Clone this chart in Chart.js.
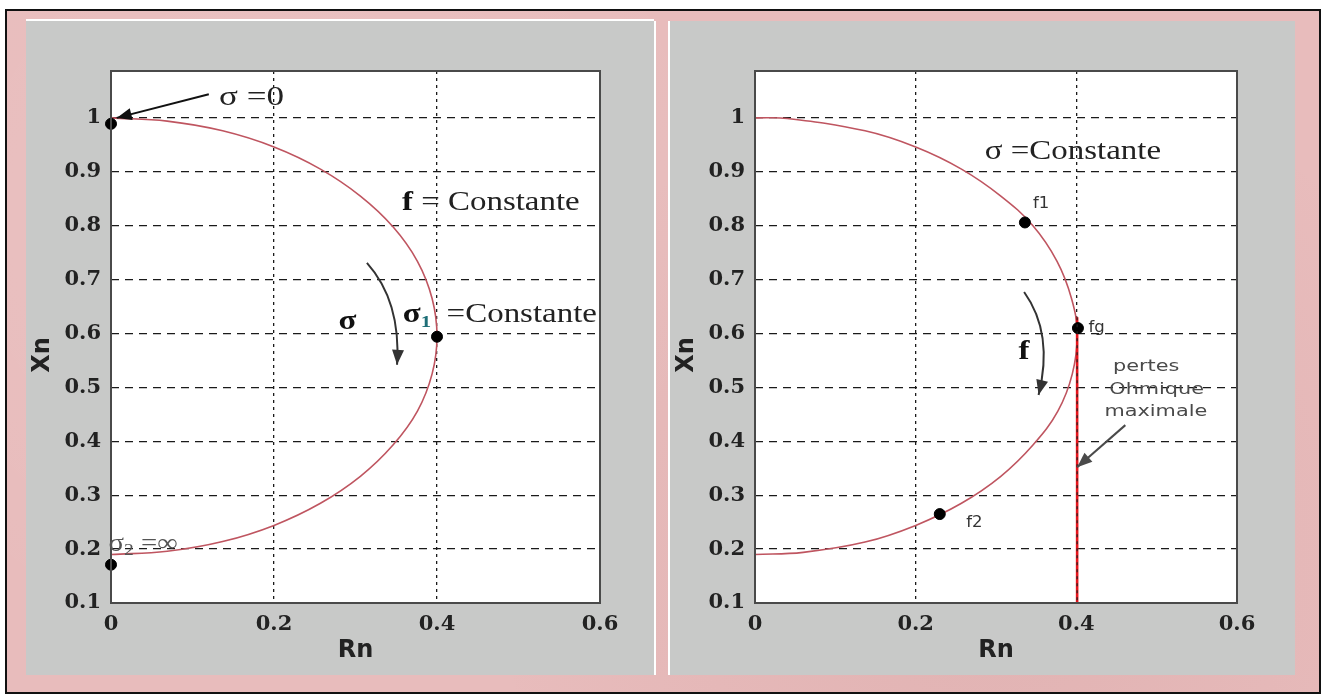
<!DOCTYPE html>
<html>
<head>
<meta charset="utf-8">
<script src="https://cdn.jsdelivr.net/npm/chart.js@4.4.1/dist/chart.umd.min.js"></script>
<style>
  html, body { margin: 0; padding: 0; background: #fff; }
  body { width: 1326px; height: 694px; position: relative; overflow: hidden; }
  #frame {
    position: absolute; left: 5px; top: 9px; width: 1312px; height: 681px;
    border: 2px solid #111;
    background:
      radial-gradient(circle at 20% 30%, rgba(255,255,255,0.10), transparent 40%),
      radial-gradient(circle at 75% 80%, rgba(160,90,90,0.10), transparent 45%),
      #e8bcbc;
  }
  .panel { position: absolute; top: 21px; height: 654px; background: #c8c9c8; }
  #p1 { left: 26px; width: 628px; box-shadow: 0 -2px 0 #fff, 2px 0 0 #fff; }
  #p2 { left: 670px; width: 625px; box-shadow: -2px 0 0 #fff; }
  canvas { display: block; }
</style>
</head>
<body>
<div id="frame"></div>
<div class="panel" id="p1"><canvas id="left" width="628" height="654"></canvas></div>
<div class="panel" id="p2"><canvas id="right" width="625" height="654"></canvas></div>

<script>
// axes
const xTicks = [0, 0.2, 0.4, 0.6];
const yTicks = [0.1, 0.2, 0.3, 0.4, 0.5, 0.6, 0.7, 0.8, 0.9, 1];

// left figure : f = Constante
const leftRn = [0, 0.069, 0.137, 0.200, 0.257, 0.306, 0.346, 0.376, 0.394, 0.400,
                0.394, 0.376, 0.346, 0.306, 0.257, 0.200, 0.137, 0.069, 0];
const leftXn = [1.000, 0.994, 0.976, 0.946, 0.905, 0.855, 0.798, 0.734, 0.665, 0.595,
                0.525, 0.456, 0.393, 0.335, 0.285, 0.244, 0.214, 0.196, 0.190];
const leftDotRn = [0, 0.4, 0];
const leftDotXn = [0.989, 0.594, 0.171];

// right figure : sigma = Constante
const rightRn = [0, 0.040, 0.137, 0.200, 0.257, 0.306, 0.346, 0.376, 0.394, 0.401,
                 0.395, 0.377, 0.346, 0.306, 0.257, 0.200, 0.137, 0.060, 0];
const rightXn = [1.000, 0.999, 0.976, 0.946, 0.905, 0.855, 0.800, 0.734, 0.665, 0.600,
                 0.525, 0.456, 0.393, 0.335, 0.285, 0.244, 0.213, 0.194, 0.190];
const rightDotRn = [0.336, 0.402, 0.23];
const rightDotXn = [0.806, 0.610, 0.265];
const limitRn = [0.401, 0.401];
const limitXn = [0.630, 0.1];

const SERIF = "'Liberation Serif', 'Times New Roman', serif";
const SANS = "'DejaVu Sans', sans-serif";

const pts = (xs, ys) => xs.map((x, i) => ({ x: x, y: ys[i] }));

function pos(chart, rn, xn) {
  return [chart.scales.x.getPixelForValue(rn), chart.scales.y.getPixelForValue(xn)];
}

function drawRich(ctx, x, y, parts, sx, align) {
  ctx.save();
  ctx.textBaseline = 'middle';
  ctx.textAlign = 'left';
  let w = 0;
  parts.forEach(p => { ctx.font = p.font; w += ctx.measureText(p.text).width + (p.dx || 0); });
  ctx.translate(x, y);
  ctx.scale(sx, 1);
  let cx = align === 'center' ? -w / 2 : 0;
  parts.forEach(p => {
    ctx.font = p.font;
    ctx.fillStyle = p.color;
    cx += p.dx || 0;
    ctx.fillText(p.text, cx, p.dy || 0);
    cx += ctx.measureText(p.text).width;
  });
  ctx.restore();
}

function head(ctx, x, y, ang, color) {
  ctx.save();
  ctx.translate(x, y);
  ctx.rotate(ang);
  ctx.fillStyle = color;
  ctx.beginPath();
  ctx.moveTo(0, 0);
  ctx.lineTo(-15, -6);
  ctx.lineTo(-15, 6);
  ctx.closePath();
  ctx.fill();
  ctx.restore();
}

function arrow(chart, a, color) {
  const ctx = chart.ctx;
  const s = pos(chart, a.from[0], a.from[1]);
  const e = pos(chart, a.to[0], a.to[1]);
  ctx.save();
  ctx.strokeStyle = color;
  ctx.lineWidth = 2;
  ctx.beginPath();
  ctx.moveTo(s[0], s[1]);
  let ang;
  if (a.ctrl) {
    const c = pos(chart, a.ctrl[0], a.ctrl[1]);
    ctx.quadraticCurveTo(c[0], c[1], e[0], e[1]);
    ang = Math.atan2(e[1] - c[1], e[0] - c[0]);
  } else {
    ctx.lineTo(e[0], e[1]);
    ang = Math.atan2(e[1] - s[1], e[0] - s[0]);
  }
  ctx.stroke();
  ctx.restore();
  head(ctx, e[0], e[1], ang, color);
}

// plot frame, white plot area, rotated Xn title, notes
function decor(notes, arrows) {
  return {
    id: 'decor',
    beforeDraw(chart) {
      const { ctx, chartArea: a } = chart;
      ctx.save();
      ctx.fillStyle = '#ffffff';
      ctx.fillRect(a.left, a.top, a.right - a.left, a.bottom - a.top);
      ctx.restore();
    },
    afterDraw(chart) {
      const { ctx, chartArea: a } = chart;
      ctx.save();
      ctx.strokeStyle = '#4a4a4a';
      ctx.lineWidth = 2;
      ctx.strokeRect(a.left, a.top, a.right - a.left, a.bottom - a.top);
      ctx.translate(a.left - 68, (a.top + a.bottom) / 2 + 18);
      ctx.rotate(-Math.PI / 2);
      ctx.font = 'bold 24px ' + SANS;
      ctx.fillStyle = '#222';
      ctx.textAlign = 'center';
      ctx.textBaseline = 'middle';
      ctx.fillText('Xn', 0, 0);
      ctx.restore();
      arrows.forEach(ar => arrow(chart, ar, ar.color));
      notes.forEach(n => {
        const p = pos(chart, n.at[0], n.at[1]);
        drawRich(ctx, p[0], p[1], n.parts, n.sx || 1, n.align);
      });
    }
  };
}

function scales() {
  const keep = vals => scale => { scale.ticks = vals.map(v => ({ value: v })); };
  const fmt = v => String(+Number(v).toFixed(1));
  const tickFont = { family: "'DejaVu Serif', serif", size: 21, weight: 'bold' };
  return {
    x: {
      type: 'linear', min: 0, max: 0.6,
      afterBuildTicks: keep(xTicks),
      afterFit: s => { s.height = 72; },
      grid: { color: '#1a1a1a', lineWidth: 1.3, drawTicks: false },
      border: { display: false, dash: [3, 4] },
      ticks: { color: '#222', font: tickFont, padding: 9, maxRotation: 0, autoSkip: false, callback: fmt },
      title: { display: true, text: 'Rn', color: '#222', font: { family: SANS, size: 24, weight: 'bold' }, padding: { top: 0, bottom: 10 } }
    },
    y: {
      type: 'linear', min: 0.1, max: 1.087,
      afterBuildTicks: keep(yTicks),
      afterFit: s => { s.width = 85; },
      grid: { color: '#1a1a1a', lineWidth: 1.3, drawTicks: false },
      border: { display: false, dash: [8, 6] },
      ticks: { color: '#222', font: tickFont, padding: 10, autoSkip: false, callback: fmt }
    }
  };
}

function curveSet(data) {
  return { type: 'scatter', data: data, showLine: true, borderColor: '#bf5560', borderWidth: 1.6,
           pointRadius: 0, tension: 0.4, fill: false, order: 2 };
}
function dotSet(data) {
  return { type: 'scatter', data: data, showLine: false, pointRadius: 5.5, pointBackgroundColor: '#000',
           pointBorderColor: '#000', clip: false, order: 0 };
}

const base = (padRight) => ({
  responsive: false,
  animation: false,
  layout: { padding: { left: 0, top: 50, right: padRight, bottom: 0 } },
  plugins: { legend: { display: false }, tooltip: { enabled: false } },
  scales: scales()
});

const f27 = '27px ' + SERIF, b27 = 'bold 27px ' + SERIF;

const leftNotes = [
  { at: [0.1325, 1.037], sx: 1.3, parts: [{ text: 'σ =0', font: f27, color: '#222' }] },
  { at: [0.357, 0.842], sx: 1.22, parts: [
      { text: 'f', font: b27, color: '#111' },
      { text: ' = ', font: f27, color: '#222' },
      { text: 'Constante', font: f27, color: '#222' }] },
  { at: [0.279, 0.621], sx: 1.22, parts: [{ text: 'σ', font: b27, color: '#111' }] },
  { at: [0.358, 0.634], sx: 1.22, parts: [
      { text: 'σ', font: b27, color: '#111' },
      { text: '1', font: 'bold 17px ' + SERIF, color: '#1f6f78', dy: 7 },
      { text: ' =Constante', font: f27, color: '#222', dx: 6 }] },
  { at: [-0.003, 0.208], sx: 1.15, parts: [
      { text: 'σ', font: '25px ' + SERIF, color: '#555' },
      { text: '2', font: '17px ' + SERIF, color: '#555', dy: 6 },
      { text: ' =∞', font: '25px ' + SERIF, color: '#555' }] }
];
const leftArrows = [
  { from: [0.120, 1.044], to: [0.007, 1.0], color: '#111' },
  { from: [0.314, 0.731], ctrl: [0.356, 0.66], to: [0.351, 0.542], color: '#333' }
];

const small = '15px ' + SANS, note = '16px ' + SANS;
const rightNotes = [
  { at: [0.286, 0.937], sx: 1.22, parts: [{ text: 'σ =Constante', font: f27, color: '#222' }] },
  { at: [0.346, 0.840], sx: 1.1, parts: [{ text: 'f1', font: small, color: '#333' }] },
  { at: [0.415, 0.610], sx: 1.1, parts: [{ text: 'fg', font: small, color: '#333' }] },
  { at: [0.263, 0.248], sx: 1.1, parts: [{ text: 'f2', font: small, color: '#333' }] },
  { at: [0.328, 0.566], sx: 1.22, parts: [{ text: 'f', font: b27, color: '#111' }] },
  { at: [0.487, 0.538], sx: 1.3, align: 'center', parts: [{ text: 'pertes', font: note, color: '#4a4a4a' }] },
  { at: [0.500, 0.495], sx: 1.3, align: 'center', parts: [{ text: 'Ohmique', font: note, color: '#4a4a4a' }] },
  { at: [0.499, 0.454], sx: 1.3, align: 'center', parts: [{ text: 'maximale', font: note, color: '#4a4a4a' }] }
];
const rightArrows = [
  { from: [0.335, 0.677], ctrl: [0.372, 0.60], to: [0.353, 0.486], color: '#333' },
  { from: [0.461, 0.430], to: [0.401, 0.352], color: '#4a4a4a' }
];

new Chart(document.getElementById('left'), {
  type: 'scatter',
  data: { datasets: [curveSet(pts(leftRn, leftXn)), dotSet(pts(leftDotRn, leftDotXn))] },
  options: base(628 - 574),
  plugins: [decor(leftNotes, leftArrows)]
});

new Chart(document.getElementById('right'), {
  type: 'scatter',
  data: { datasets: [
    curveSet(pts(rightRn, rightXn)),
    { type: 'scatter', data: pts(limitRn, limitXn), showLine: true, borderColor: '#e8141c', borderWidth: 2.6,
      pointRadius: 0, order: 1 },
    { type: 'scatter', data: pts(limitRn, limitXn), showLine: true, borderColor: '#222', borderWidth: 1.2,
      borderDash: [3, 4], pointRadius: 0, order: 0 },
    dotSet(pts(rightDotRn, rightDotXn))
  ] },
  options: base(625 - 567),
  plugins: [decor(rightNotes, rightArrows)]
});
</script>
</body>
</html>
